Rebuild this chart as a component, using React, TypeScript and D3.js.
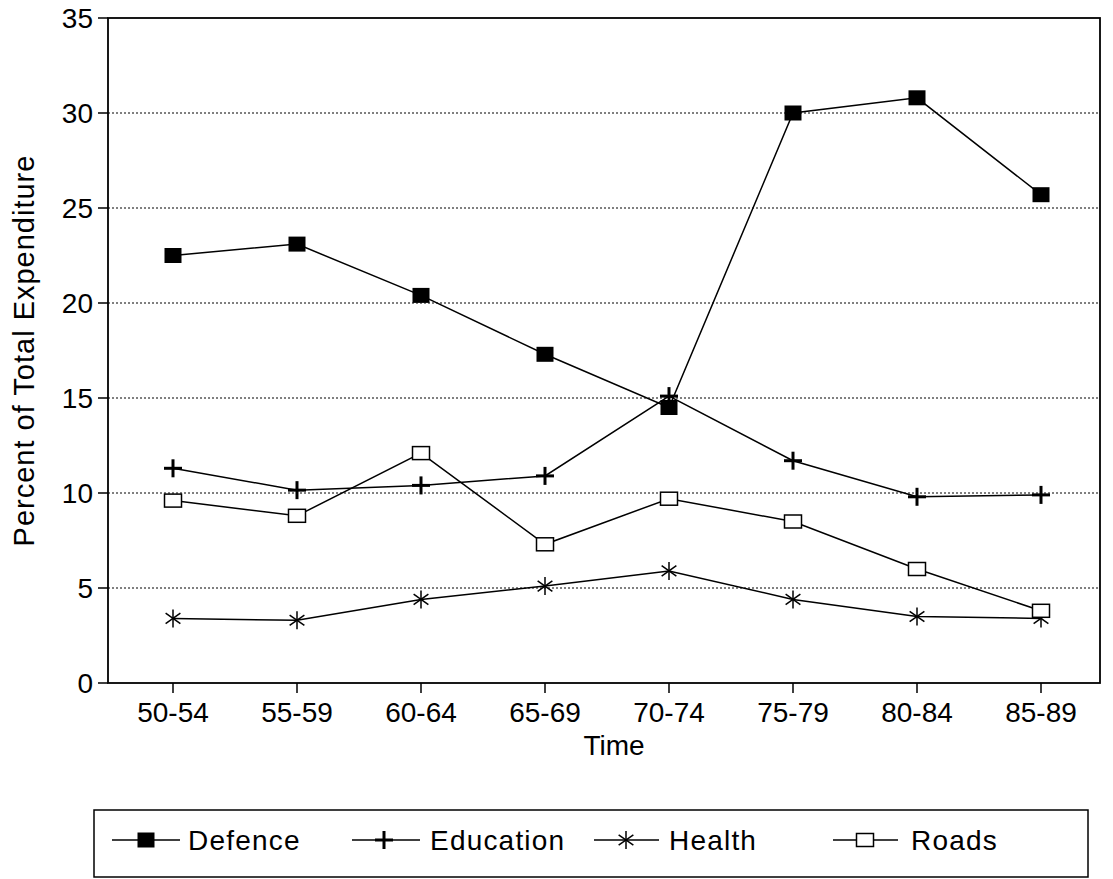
import * as d3 from 'd3';

const categories = ['50-54', '55-59', '60-64', '65-69', '70-74', '75-79', '80-84', '85-89'];
const defence = [22.5, 23.1, 20.4, 17.3, 14.5, 30.0, 30.8, 25.7];
const education = [11.3, 10.15, 10.4, 10.9, 15.1, 11.7, 9.8, 9.9];
const health = [3.4, 3.3, 4.4, 5.1, 5.9, 4.4, 3.5, 3.4];
const roads = [9.6, 8.8, 12.1, 7.3, 9.7, 8.5, 6.0, 3.8];
const yTicks = [0, 5, 10, 15, 20, 25, 30, 35];
const seriesNames = ['Defence', 'Education', 'Health', 'Roads'];

type Kind = 'filled' | 'plus' | 'star' | 'open';

const font = "'Liberation Sans', Arial, Helvetica, sans-serif";

// frame of the plot
const frame = { left: 108, right: 1100, top: 18, bottom: 683 };

const Marker = ({ kind, x, y }: { kind: Kind; x: number; y: number }) => {
  if (kind === 'filled') {
    return <rect x={x - 8.5} y={y - 7.5} width={17} height={15} fill="#000" />;
  }
  if (kind === 'open') {
    return <rect x={x - 8.5} y={y - 6.5} width={17} height={13} fill="#fff" stroke="#000" strokeWidth={1.5} />;
  }
  if (kind === 'plus') {
    return (
      <g stroke="#000" strokeWidth={3}>
        <line x1={x - 9} x2={x + 9} y1={y} y2={y} />
        <line x1={x} x2={x} y1={y - 9} y2={y + 9} />
      </g>
    );
  }
  const r = 9;
  const a = (Math.PI / 180) * 35;
  return (
    <g stroke="#000" strokeWidth={1.5}>
      <line x1={x} x2={x} y1={y - r} y2={y + r} />
      <line x1={x - r * Math.cos(a)} x2={x + r * Math.cos(a)} y1={y - r * Math.sin(a)} y2={y + r * Math.sin(a)} />
      <line x1={x - r * Math.cos(a)} x2={x + r * Math.cos(a)} y1={y + r * Math.sin(a)} y2={y - r * Math.sin(a)} />
    </g>
  );
};

export default function App() {
  const x = d3.scalePoint<string>().domain(categories).range([173, 1041]);
  const y = d3.scaleLinear().domain([0, 35]).range([frame.bottom, frame.top]);

  const series: { name: string; values: number[]; kind: Kind }[] = [
    { name: seriesNames[0], values: defence, kind: 'filled' },
    { name: seriesNames[1], values: education, kind: 'plus' },
    { name: seriesNames[2], values: health, kind: 'star' },
    { name: seriesNames[3], values: roads, kind: 'open' },
  ];

  const line = d3
    .line<number>()
    .x((_, i) => x(categories[i])!)
    .y(d => y(d));

  // legend entries: line start/end, marker, text start
  const legendItems = [
    { x0: 112, x1: 180, m: 146, tx: 188 },
    { x0: 352, x1: 420, m: 384, tx: 430 },
    { x0: 594, x1: 659, m: 626, tx: 669 },
    { x0: 833, x1: 898, m: 865, tx: 911 },
  ];
  const legendY = 840;

  return (
    <svg
      width={1113}
      height={879}
      style={{ position: 'absolute', left: 0, top: 0, background: '#fff' }}
      fontFamily={font}
    >
      <rect width={1113} height={879} fill="#fff" />

      {/* gridlines */}
      {yTicks
        .filter(t => t > 0 && t < 35)
        .map(t => (
          <line
            key={'g' + t}
            x1={frame.left}
            x2={frame.right}
            y1={y(t)}
            y2={y(t)}
            stroke="#000"
            strokeWidth={1}
            strokeDasharray="2,2"
          />
        ))}

      {/* frame */}
      <rect
        x={frame.left}
        y={frame.top}
        width={frame.right - frame.left}
        height={frame.bottom - frame.top}
        fill="none"
        stroke="#000"
        strokeWidth={1.8}
      />

      {/* y axis ticks + labels */}
      {yTicks.map(t => (
        <g key={'y' + t}>
          <line x1={frame.left - 10} x2={frame.left} y1={y(t)} y2={y(t)} stroke="#000" strokeWidth={1.5} />
          <text x={frame.left - 15} y={y(t)} dy="0.36em" textAnchor="end" fontSize={28} fill="#000">
            {t}
          </text>
        </g>
      ))}

      {/* x axis ticks + labels */}
      {categories.map(c => (
        <g key={'x' + c}>
          <line x1={x(c)} x2={x(c)} y1={frame.bottom} y2={frame.bottom + 10} stroke="#000" strokeWidth={1.5} />
          <text x={x(c)} y={frame.bottom + 29} dy="0.36em" textAnchor="middle" fontSize={28} fill="#000">
            {c}
          </text>
        </g>
      ))}

      <text x={614} y={745} dy="0.36em" textAnchor="middle" fontSize={28} fill="#000">
        Time
      </text>
      <text
        transform={`translate(24,${(frame.top + frame.bottom) / 2}) rotate(-90)`}
        dy="0.36em"
        textAnchor="middle"
        fontSize={29}
        letterSpacing={1}
        fill="#000"
      >
        Percent of Total Expenditure
      </text>

      {/* series */}
      {series.map(s => (
        <g key={s.name}>
          <path d={line(s.values) ?? ''} fill="none" stroke="#000" strokeWidth={1.5} />
          {s.values.map((v, i) => (
            <Marker key={i} kind={s.kind} x={x(categories[i])!} y={y(v)} />
          ))}
        </g>
      ))}

      {/* legend */}
      <rect x={94} y={810} width={994} height={67} fill="none" stroke="#000" strokeWidth={1.5} />
      {series.map((s, i) => {
        const it = legendItems[i];
        return (
          <g key={'l' + s.name}>
            <line x1={it.x0} x2={it.x1} y1={legendY} y2={legendY} stroke="#000" strokeWidth={1.5} />
            <Marker kind={s.kind} x={it.m} y={legendY} />
            <text x={it.tx} y={legendY} dy="0.36em" fontSize={28} letterSpacing={1.2} fill="#000">
              {s.name}
            </text>
          </g>
        );
      })}
    </svg>
  );
}
